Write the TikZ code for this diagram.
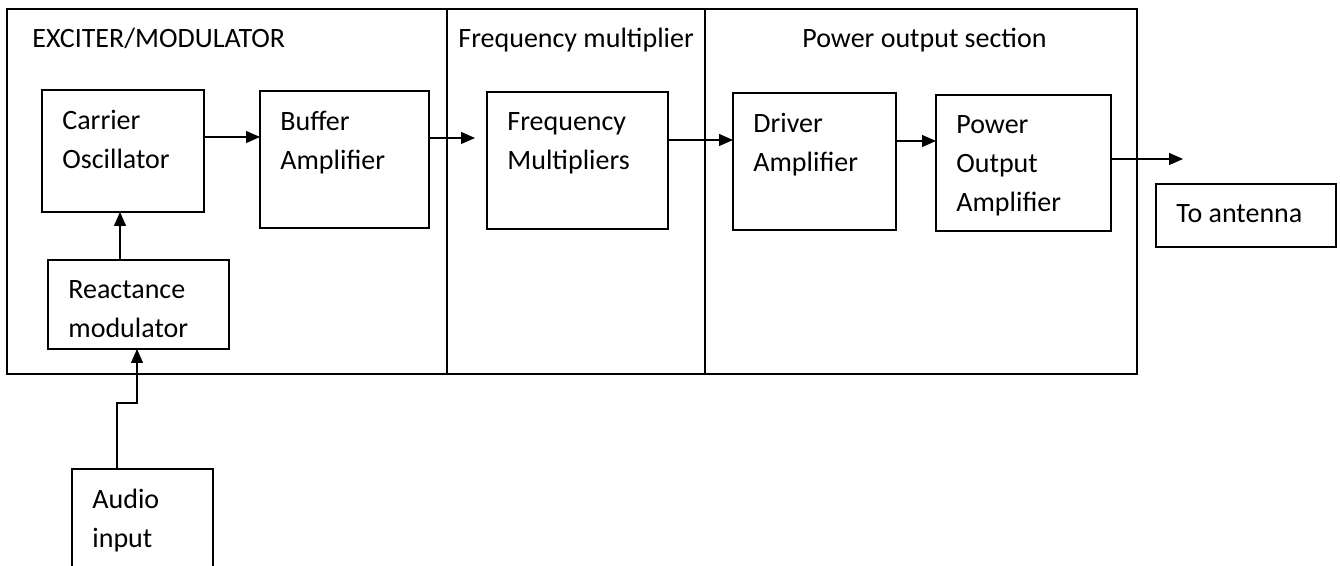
\documentclass[tikz,border=0pt]{standalone}
\usepackage{fontspec}
\setmainfont{Carlito}
\usetikzlibrary{arrows.meta}
\begin{document}
\begin{tikzpicture}[x=0.5pt,y=-0.5pt,
  every node/.style={font=\fontsize{14}{19.5}\selectfont},
  blk/.style={draw, line width=0.7pt, anchor=north west, inner sep=0pt, outer sep=0pt},
  txt/.style={label={[anchor=north west, align=left, inner sep=0pt, xshift=10pt, yshift=-10pt]north west:#1}},
  sec/.style 2 args={label={[anchor=north west, inner sep=0pt, xshift=#1, yshift=-9.5pt]north west:#2}},
  arr/.style={line width=0.6pt, -{Triangle[length=7pt,width=6pt]}}]
\clip (0,0) rectangle (1340,566);
\fill[white] (0,0) rectangle (1340,566);
% sections
\node[blk, minimum width=220pt, minimum height=182.5pt, sec={12.5pt}{EXCITER/MODULATOR}] (exc) at (7,9) {};
\node[blk, minimum width=129pt, minimum height=182.5pt, sec={5.5pt}{Frequency multiplier}] (fmul) at (447,9) {};
\node[blk, minimum width=216pt, minimum height=182.5pt, sec={48.5pt}{Power output section}] (pout) at (705,9) {};
% blocks
\node[blk, minimum width=81pt, minimum height=61pt, txt={Carrier\\Oscillator}] (carrier) at (42,90) {};
\node[blk, minimum width=84.5pt, minimum height=68.5pt, txt={Buffer\\Amplifier}] (buffer) at (260,91) {};
\node[blk, minimum width=90.5pt, minimum height=44.5pt, txt={Reactance\\modulator}] (react) at (48,260) {};
\node[blk, minimum width=90.5pt, minimum height=68.5pt, txt={Frequency\\Multipliers}] (freqm) at (487,92) {};
\node[blk, minimum width=81.5pt, minimum height=68.5pt, txt={Driver\\Amplifier}] (driver) at (733,93) {};
\node[blk, minimum width=87.5pt, minimum height=68pt, txt={Power\\Output\\Amplifier}] (power) at (936,95) {};
\node[blk, minimum width=90pt, minimum height=31.5pt, txt={To antenna}] (ant) at (1156,184) {};
\node[blk, minimum width=70.5pt, minimum height=60pt, txt={Audio\\input}] (audio) at (72,469) {};
% connectors
\coordinate (antout) at (1183,159);
\coordinate (bend) at (137,403);
\draw[arr] (react.north -| 120,0) -- (carrier.south -| 120,0);
\draw[arr] (carrier.east |- 0,137) -- (buffer.west |- 0,137);
\draw[arr, shorten >=6pt] (buffer.east |- 0,138) -- (freqm.west |- 0,138);
\draw[arr] (freqm.east |- 0,140) -- (driver.west |- 0,140);
\draw[arr] (driver.east |- 0,141) -- (power.west |- 0,141);
\draw[arr] (power.east |- antout) -- (antout);
\draw[arr] (audio.north -| 117,0) |- (bend) -- (react.south -| bend);
\end{tikzpicture}
\end{document}
